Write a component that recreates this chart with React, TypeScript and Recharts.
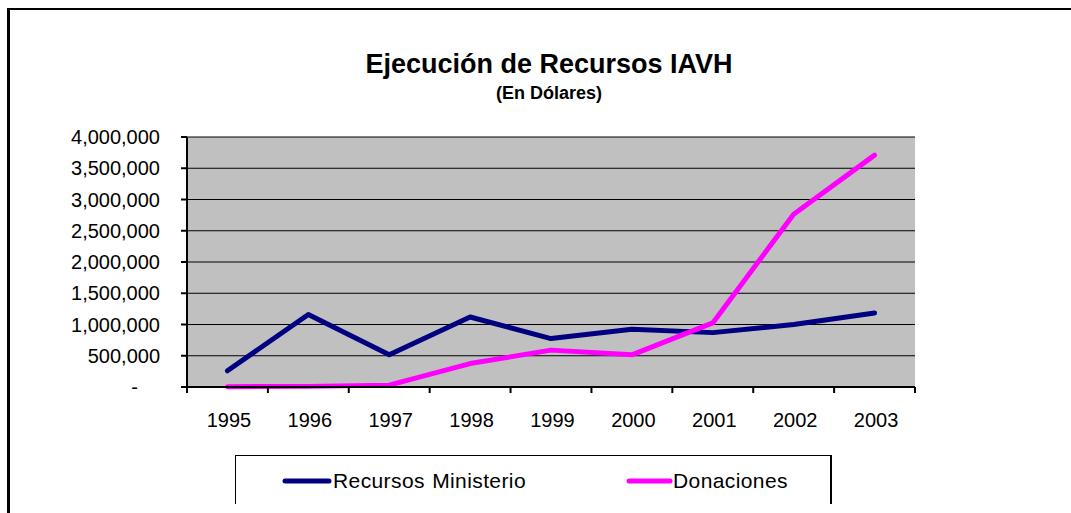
import React from 'react';
import { LineChart, Line, XAxis, YAxis, CartesianGrid, Legend } from 'recharts';

const years = ['1995', '1996', '1997', '1998', '1999', '2000', '2001', '2002', '2003'];
const recursosMinisterio = [260000, 1160000, 515000, 1120000, 775000, 925000, 870000, 1000000, 1185000];
const donaciones = [5000, 10000, 30000, 375000, 590000, 515000, 1025000, 2765000, 3710000];
const yTicks = [0, 500000, 1000000, 1500000, 2000000, 2500000, 3000000, 3500000, 4000000];

const seriesNames = ['Recursos Ministerio', 'Donaciones'];
const seriesColors = ['#000080', '#FF00FF'];

const data = years.map((y, i) => ({
  year: y,
  recursos: recursosMinisterio[i],
  donaciones: donaciones[i],
}));

const FONT = '"Liberation Sans", Arial, Helvetica, sans-serif';

const fmt = (v: number) => v.toLocaleString('en-US');

const XTick = (props: any) => {
  const { x, y, payload, index, visibleTicksCount } = props;
  const off = payload && payload.offset ? payload.offset : 40.4;
  const last = index === visibleTicksCount - 1;
  return (
    <g>
      <line x1={x - off} x2={x - off} y1={y} y2={y + 6} stroke="#000" strokeWidth={2} />
      {last && <line x1={x + off} x2={x + off} y1={y} y2={y + 6} stroke="#000" strokeWidth={2} />}
      <text x={x + 1.5} y={y + 40} textAnchor="middle" fontFamily={FONT} fontSize={20} fill="#000">
        {payload.value}
      </text>
    </g>
  );
};

const YTick = (props: any) => {
  const { x, y, payload } = props;
  const v = payload.value as number;
  return (
    <text
      x={v === 0 ? x - 22 : x}
      y={y}
      dy="0.36em"
      textAnchor="end"
      fontFamily={FONT}
      fontSize={20}
      fill="#000"
    >
      {v === 0 ? '-' : fmt(v)}
    </text>
  );
};

const legendLeft = [46, 390];

const LegendContent = () => (
  <div
    style={{
      position: 'absolute',
      left: 0,
      top: 0,
      width: 597,
      height: 49,
      borderLeft: '1px solid #000',
      borderTop: '1px solid #000',
      borderRight: '2px solid #000',
      boxSizing: 'border-box',
      fontFamily: FONT,
      fontSize: 21,
      color: '#000',
    }}
  >
    {seriesNames.map((n, i) => (
      <div
        key={n}
        style={{
          position: 'absolute',
          left: legendLeft[i],
          top: 14,
          display: 'flex',
          alignItems: 'center',
          whiteSpace: 'nowrap',
        }}
      >
        <svg width={i === 0 ? 51 : 47} height={10} style={{ display: 'block' }}>
          <line x1={3} x2={i === 0 ? 47 : 44} y1={5} y2={5} stroke={seriesColors[i]} strokeWidth={5} strokeLinecap="round" />
        </svg>
        <span style={{ lineHeight: '22px', letterSpacing: 0.4, wordSpacing: 1 }}>{n}</span>
      </div>
    ))}
  </div>
);

export default function App() {
  return (
    <div style={{ position: 'absolute', left: 0, top: 0, width: 1071, height: 513, background: '#fff', overflow: 'hidden' }}>
      <svg width={1071} height={513} style={{ position: 'absolute', left: 0, top: 0 }}>
        <line x1={8.5} x2={8.5} y1={8} y2={513} stroke="#000" strokeWidth={3} />
        <line x1={7} x2={1071} y1={9} y2={9} stroke="#000" strokeWidth={2} />
        <text x={549} y={73} textAnchor="middle" fontFamily={FONT} fontWeight="bold" fontSize={27} fill="#000">
          Ejecución de Recursos IAVH
        </text>
        <text x={549} y={99} textAnchor="middle" fontFamily={FONT} fontWeight="bold" fontSize={18} fill="#000">
          (En Dólares)
        </text>
      </svg>
      <div style={{ position: 'absolute', left: 0, top: 0 }}>
        <LineChart
          width={1071}
          height={513}
          data={data}
          margin={{ top: 137, right: 156, left: 0, bottom: 0 }}
        >
          <CartesianGrid fill="#C0C0C0" vertical={false} stroke="#000" strokeWidth={1} />
          <XAxis
            dataKey="year"
            scale="band"
            height={126}
            tickLine={false}
            tickSize={0}
            tickMargin={0}
            interval={0}
            axisLine={{ stroke: '#000', strokeWidth: 2 }}
            tick={<XTick />}
          />
          <XAxis
            xAxisId="top"
            dataKey="year"
            orientation="top"
            height={0}
            tick={false}
            tickLine={false}
            axisLine={{ stroke: '#808080', strokeWidth: 2 }}
          />
          <YAxis
            width={187}
            domain={[0, 4000000]}
            ticks={yTicks}
            interval={0}
            tickSize={6}
            tickMargin={21}
            tickLine={{ stroke: '#000', strokeWidth: 2 }}
            axisLine={{ stroke: '#000', strokeWidth: 2 }}
            tick={<YTick />}
          />
          <YAxis
            yAxisId="right"
            orientation="right"
            width={0}
            domain={[0, 4000000]}
            tick={false}
            tickLine={false}
            axisLine={{ stroke: '#808080', strokeWidth: 2 }}
          />
          <Legend
            content={<LegendContent />}
            wrapperStyle={{ position: 'absolute', left: 235, top: 455, right: 'auto', bottom: 'auto', width: 0, height: 0, overflow: 'visible' }}
          />
          <Line
            type="linear"
            dataKey="recursos"
            name={seriesNames[0]}
            stroke={seriesColors[0]}
            strokeWidth={5}
            strokeLinecap="round"
            strokeLinejoin="round"
            dot={false}
            activeDot={false}
            isAnimationActive={false}
          />
          <Line
            type="linear"
            dataKey="donaciones"
            name={seriesNames[1]}
            stroke={seriesColors[1]}
            strokeWidth={5}
            strokeLinecap="round"
            strokeLinejoin="round"
            dot={false}
            activeDot={false}
            isAnimationActive={false}
          />
        </LineChart>
      </div>
    </div>
  );
}
